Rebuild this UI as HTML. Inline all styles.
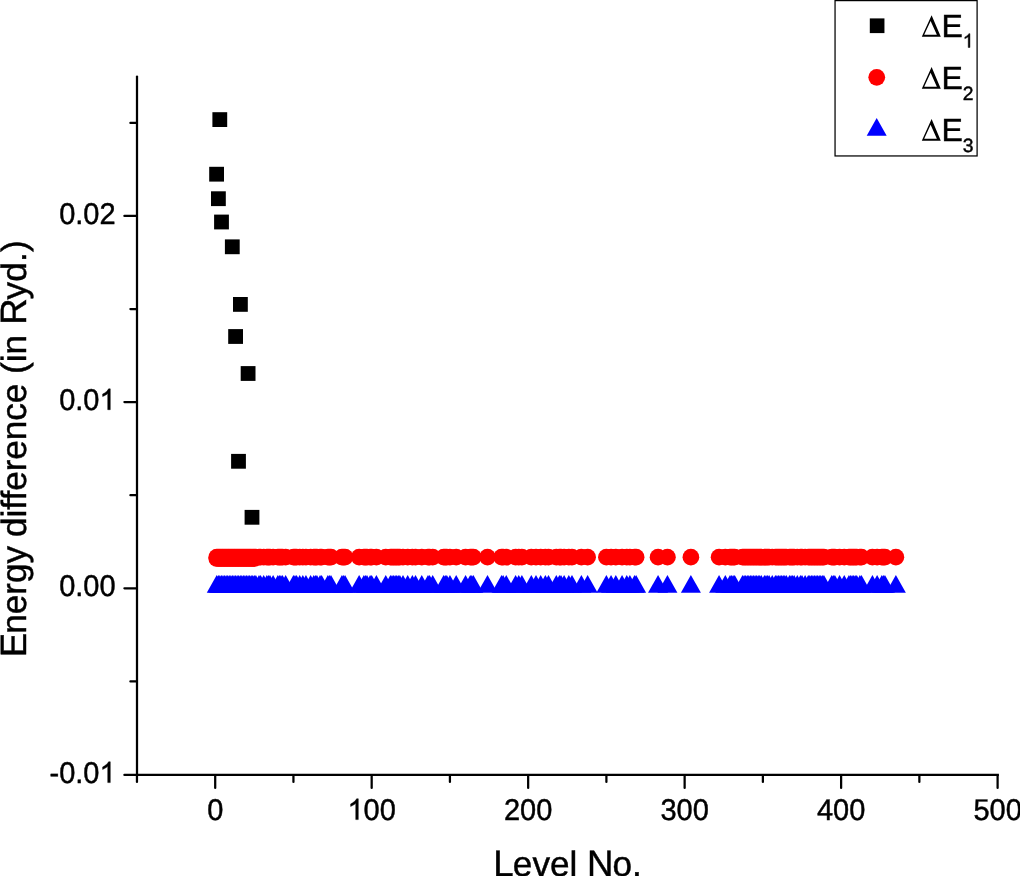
<!DOCTYPE html>
<html><head><meta charset="utf-8"><style>
html,body{margin:0;padding:0;background:#fff;width:1020px;height:876px;overflow:hidden}
svg{display:block;will-change:transform}
text{font-family:"Liberation Sans",sans-serif;fill:#000;stroke:#000;stroke-width:0.45px;text-rendering:geometricPrecision}
.tl{font-size:29px}
.h{fill:none;stroke:none}
.one{fill:#000;stroke:#000}
.al{font-size:35.16px}
.lg{font-size:32px}
.cap{font-size:36.58px}
.sub{font-size:19.3px}
</style></head><body>
<svg width="1020" height="876" viewBox="0 0 1020 876">
<line x1="137.0" y1="76.6" x2="137.0" y2="774.95" stroke="#000" stroke-width="2.25" stroke-linecap="round"/><line x1="137.0" y1="774.95" x2="998.9" y2="774.95" stroke="#000" stroke-width="2.25"/><line x1="124.4" y1="215.9" x2="136.5" y2="215.9" stroke="#000" stroke-width="2.25" stroke-linecap="round"/><line x1="124.4" y1="402.0" x2="136.5" y2="402.0" stroke="#000" stroke-width="2.25" stroke-linecap="round"/><line x1="124.4" y1="588.3" x2="136.5" y2="588.3" stroke="#000" stroke-width="2.25" stroke-linecap="round"/><line x1="124.4" y1="774.9" x2="136.5" y2="774.9" stroke="#000" stroke-width="2.25" stroke-linecap="round"/><line x1="130.4" y1="122.9" x2="136.5" y2="122.9" stroke="#000" stroke-width="2.25" stroke-linecap="round"/><line x1="130.4" y1="309.0" x2="136.5" y2="309.0" stroke="#000" stroke-width="2.25" stroke-linecap="round"/><line x1="130.4" y1="495.2" x2="136.5" y2="495.2" stroke="#000" stroke-width="2.25" stroke-linecap="round"/><line x1="130.4" y1="681.4" x2="136.5" y2="681.4" stroke="#000" stroke-width="2.25" stroke-linecap="round"/><line x1="215.2" y1="775.45" x2="215.2" y2="787.9" stroke="#000" stroke-width="2.25" stroke-linecap="round"/><line x1="371.68" y1="775.45" x2="371.68" y2="787.9" stroke="#000" stroke-width="2.25" stroke-linecap="round"/><line x1="528.16" y1="775.45" x2="528.16" y2="787.9" stroke="#000" stroke-width="2.25" stroke-linecap="round"/><line x1="684.64" y1="775.45" x2="684.64" y2="787.9" stroke="#000" stroke-width="2.25" stroke-linecap="round"/><line x1="841.12" y1="775.45" x2="841.12" y2="787.9" stroke="#000" stroke-width="2.25" stroke-linecap="round"/><line x1="997.6" y1="775.45" x2="997.6" y2="787.9" stroke="#000" stroke-width="2.25" stroke-linecap="round"/><line x1="136.96" y1="775.45" x2="136.96" y2="781.9" stroke="#000" stroke-width="2.25" stroke-linecap="round"/><line x1="293.44" y1="775.45" x2="293.44" y2="781.9" stroke="#000" stroke-width="2.25" stroke-linecap="round"/><line x1="449.92" y1="775.45" x2="449.92" y2="781.9" stroke="#000" stroke-width="2.25" stroke-linecap="round"/><line x1="606.4" y1="775.45" x2="606.4" y2="781.9" stroke="#000" stroke-width="2.25" stroke-linecap="round"/><line x1="762.88" y1="775.45" x2="762.88" y2="781.9" stroke="#000" stroke-width="2.25" stroke-linecap="round"/><line x1="919.36" y1="775.45" x2="919.36" y2="781.9" stroke="#000" stroke-width="2.25" stroke-linecap="round"/>
<text transform="translate(115.6 223.6) scale(1 1.034)" text-anchor="end" class="tl">0.02</text><text transform="translate(115.6 409.7) scale(1 1.034)" text-anchor="end" class="tl">0.0<tspan class="h">1</tspan></text><path class="one" stroke-width="31.8" transform="translate(99.47 409.70) scale(0.01416 -0.01416)" d="M763 0L583 0L583 1147Q518 1085 415 1024Q312 964 222 930L222 1104Q373 1175 486 1276Q599 1377 646 1472L763 1472Z"/><text transform="translate(115.6 596) scale(1 1.034)" text-anchor="end" class="tl">0.00</text><text transform="translate(115.6 782.6) scale(1 1.034)" text-anchor="end" class="tl">-0.0<tspan class="h">1</tspan></text><path class="one" stroke-width="31.8" transform="translate(99.47 782.60) scale(0.01416 -0.01416)" d="M763 0L583 0L583 1147Q518 1085 415 1024Q312 964 222 930L222 1104Q373 1175 486 1276Q599 1377 646 1472L763 1472Z"/><text transform="translate(215.2 819.6) scale(1 1.034)" text-anchor="middle" class="tl">0</text><text transform="translate(371.68 819.6) scale(1 1.034)" text-anchor="middle" class="tl"><tspan class="h">1</tspan>00</text><path class="one" stroke-width="31.8" transform="translate(347.49 819.60) scale(0.01416 -0.01416)" d="M763 0L583 0L583 1147Q518 1085 415 1024Q312 964 222 930L222 1104Q373 1175 486 1276Q599 1377 646 1472L763 1472Z"/><text transform="translate(528.16 819.6) scale(1 1.034)" text-anchor="middle" class="tl">200</text><text transform="translate(684.64 819.6) scale(1 1.034)" text-anchor="middle" class="tl">300</text><text transform="translate(841.12 819.6) scale(1 1.034)" text-anchor="middle" class="tl">400</text><text transform="translate(997.6 819.6) scale(1 1.034)" text-anchor="middle" class="tl">500</text><text x="0" y="0" class="al" transform="translate(25.9,657.2) rotate(-90)"><tspan class="cap">E</tspan><tspan dx="-0.95">nergy </tspan><tspan dx="-0.9" letter-spacing="-0.05">difference </tspan><tspan>(in </tspan><tspan class="cap" dx="0.3">R</tspan><tspan dx="-1.03" letter-spacing="0.2">yd.)</tspan></text><text x="493.3" y="876" class="al"><tspan class="cap">L</tspan><tspan dx="-0.79">evel </tspan><tspan class="cap">N</tspan><tspan dx="-1.03">o.</tspan></text>
<g fill="#000"><rect x="212.4" y="112.2" width="14.8" height="14.8"/><rect x="209.2" y="166.8" width="14.8" height="14.8"/><rect x="211" y="191.3" width="14.8" height="14.8"/><rect x="214.1" y="214.6" width="14.8" height="14.8"/><rect x="224.9" y="239.4" width="14.8" height="14.8"/><rect x="233" y="297" width="14.8" height="14.8"/><rect x="228.2" y="329.1" width="14.8" height="14.8"/><rect x="240.7" y="366.1" width="14.8" height="14.8"/><rect x="231.1" y="453.9" width="14.8" height="14.8"/><rect x="244.6" y="509.9" width="14.8" height="14.8"/></g>
<g fill="#f00"><circle cx="216.76" cy="557.2" r="8.35"/><circle cx="216.76" cy="558.5" r="8.35"/><circle cx="218.33" cy="557.2" r="8.35"/><circle cx="218.33" cy="558.5" r="8.35"/><circle cx="219.89" cy="557.2" r="8.35"/><circle cx="219.89" cy="558.5" r="8.35"/><circle cx="221.46" cy="557.2" r="8.35"/><circle cx="221.46" cy="558.5" r="8.35"/><circle cx="223.02" cy="557.2" r="8.35"/><circle cx="223.02" cy="558.5" r="8.35"/><circle cx="224.59" cy="557.2" r="8.35"/><circle cx="224.59" cy="558.5" r="8.35"/><circle cx="226.15" cy="557.2" r="8.35"/><circle cx="226.15" cy="558.5" r="8.35"/><circle cx="227.72" cy="557.2" r="8.35"/><circle cx="227.72" cy="558.5" r="8.35"/><circle cx="229.28" cy="557.2" r="8.35"/><circle cx="229.28" cy="558.5" r="8.35"/><circle cx="230.85" cy="557.2" r="8.35"/><circle cx="230.85" cy="558.5" r="8.35"/><circle cx="232.41" cy="557.2" r="8.35"/><circle cx="232.41" cy="558.5" r="8.35"/><circle cx="233.98" cy="557.2" r="8.35"/><circle cx="233.98" cy="558.5" r="8.35"/><circle cx="235.54" cy="557.2" r="8.35"/><circle cx="235.54" cy="558.5" r="8.35"/><circle cx="237.11" cy="557.2" r="8.35"/><circle cx="237.11" cy="558.5" r="8.35"/><circle cx="238.67" cy="557.2" r="8.35"/><circle cx="238.67" cy="558.5" r="8.35"/><circle cx="240.24" cy="557.2" r="8.35"/><circle cx="240.24" cy="558.5" r="8.35"/><circle cx="241.8" cy="557.2" r="8.35"/><circle cx="241.8" cy="558.5" r="8.35"/><circle cx="243.37" cy="557.2" r="8.35"/><circle cx="243.37" cy="558.5" r="8.35"/><circle cx="244.93" cy="557.2" r="8.35"/><circle cx="244.93" cy="558.5" r="8.35"/><circle cx="246.5" cy="557.2" r="8.35"/><circle cx="246.5" cy="558.5" r="8.35"/><circle cx="248.06" cy="557.2" r="8.35"/><circle cx="248.06" cy="558.5" r="8.35"/><circle cx="249.63" cy="557.2" r="8.35"/><circle cx="249.63" cy="558.5" r="8.35"/><circle cx="251.19" cy="557.2" r="8.35"/><circle cx="251.19" cy="558.5" r="8.35"/><circle cx="252.76" cy="557.2" r="8.35"/><circle cx="252.76" cy="558.5" r="8.35"/><circle cx="254.32" cy="557.2" r="8.35"/><circle cx="254.32" cy="558.5" r="8.35"/><circle cx="255.88" cy="557.2" r="8.35"/><circle cx="259.01" cy="557.2" r="8.35"/><circle cx="260.58" cy="557.2" r="8.35"/><circle cx="263.71" cy="557.2" r="8.35"/><circle cx="266.84" cy="557.2" r="8.35"/><circle cx="268.4" cy="557.2" r="8.35"/><circle cx="269.97" cy="557.2" r="8.35"/><circle cx="273.1" cy="557.2" r="8.35"/><circle cx="277.79" cy="557.2" r="8.35"/><circle cx="279.36" cy="557.2" r="8.35"/><circle cx="280.92" cy="557.2" r="8.35"/><circle cx="282.49" cy="557.2" r="8.35"/><circle cx="285.62" cy="557.2" r="8.35"/><circle cx="293.44" cy="557.2" r="8.35"/><circle cx="295" cy="557.2" r="8.35"/><circle cx="296.57" cy="557.2" r="8.35"/><circle cx="299.7" cy="557.2" r="8.35"/><circle cx="302.83" cy="557.2" r="8.35"/><circle cx="305.96" cy="557.2" r="8.35"/><circle cx="310.65" cy="557.2" r="8.35"/><circle cx="313.78" cy="557.2" r="8.35"/><circle cx="315.35" cy="557.2" r="8.35"/><circle cx="316.91" cy="557.2" r="8.35"/><circle cx="320.04" cy="557.2" r="8.35"/><circle cx="321.61" cy="557.2" r="8.35"/><circle cx="327.87" cy="557.2" r="8.35"/><circle cx="329.43" cy="557.2" r="8.35"/><circle cx="331" cy="557.2" r="8.35"/><circle cx="341.95" cy="557.2" r="8.35"/><circle cx="343.51" cy="557.2" r="8.35"/><circle cx="345.08" cy="557.2" r="8.35"/><circle cx="359.16" cy="557.2" r="8.35"/><circle cx="363.86" cy="557.2" r="8.35"/><circle cx="365.42" cy="557.2" r="8.35"/><circle cx="366.99" cy="557.2" r="8.35"/><circle cx="370.12" cy="557.2" r="8.35"/><circle cx="371.68" cy="557.2" r="8.35"/><circle cx="376.37" cy="557.2" r="8.35"/><circle cx="385.76" cy="557.2" r="8.35"/><circle cx="390.46" cy="557.2" r="8.35"/><circle cx="392.02" cy="557.2" r="8.35"/><circle cx="393.59" cy="557.2" r="8.35"/><circle cx="395.15" cy="557.2" r="8.35"/><circle cx="396.72" cy="557.2" r="8.35"/><circle cx="398.28" cy="557.2" r="8.35"/><circle cx="399.85" cy="557.2" r="8.35"/><circle cx="402.98" cy="557.2" r="8.35"/><circle cx="407.67" cy="557.2" r="8.35"/><circle cx="412.36" cy="557.2" r="8.35"/><circle cx="415.49" cy="557.2" r="8.35"/><circle cx="421.75" cy="557.2" r="8.35"/><circle cx="428.01" cy="557.2" r="8.35"/><circle cx="429.58" cy="557.2" r="8.35"/><circle cx="432.71" cy="557.2" r="8.35"/><circle cx="443.66" cy="557.2" r="8.35"/><circle cx="445.23" cy="557.2" r="8.35"/><circle cx="446.79" cy="557.2" r="8.35"/><circle cx="449.92" cy="557.2" r="8.35"/><circle cx="456.18" cy="557.2" r="8.35"/><circle cx="465.57" cy="557.2" r="8.35"/><circle cx="470.26" cy="557.2" r="8.35"/><circle cx="471.83" cy="557.2" r="8.35"/><circle cx="473.39" cy="557.2" r="8.35"/><circle cx="487.48" cy="557.2" r="8.35"/><circle cx="501.56" cy="557.2" r="8.35"/><circle cx="503.12" cy="557.2" r="8.35"/><circle cx="506.25" cy="557.2" r="8.35"/><circle cx="515.64" cy="557.2" r="8.35"/><circle cx="518.77" cy="557.2" r="8.35"/><circle cx="521.9" cy="557.2" r="8.35"/><circle cx="531.29" cy="557.2" r="8.35"/><circle cx="535.98" cy="557.2" r="8.35"/><circle cx="540.68" cy="557.2" r="8.35"/><circle cx="545.37" cy="557.2" r="8.35"/><circle cx="548.5" cy="557.2" r="8.35"/><circle cx="556.33" cy="557.2" r="8.35"/><circle cx="559.46" cy="557.2" r="8.35"/><circle cx="561.02" cy="557.2" r="8.35"/><circle cx="564.15" cy="557.2" r="8.35"/><circle cx="568.84" cy="557.2" r="8.35"/><circle cx="571.97" cy="557.2" r="8.35"/><circle cx="581.36" cy="557.2" r="8.35"/><circle cx="587.62" cy="557.2" r="8.35"/><circle cx="606.4" cy="557.2" r="8.35"/><circle cx="611.09" cy="557.2" r="8.35"/><circle cx="615.79" cy="557.2" r="8.35"/><circle cx="622.05" cy="557.2" r="8.35"/><circle cx="626.74" cy="557.2" r="8.35"/><circle cx="629.87" cy="557.2" r="8.35"/><circle cx="634.57" cy="557.2" r="8.35"/><circle cx="636.13" cy="557.2" r="8.35"/><circle cx="658.04" cy="557.2" r="8.35"/><circle cx="667.43" cy="557.2" r="8.35"/><circle cx="690.9" cy="557.2" r="8.35"/><circle cx="719.07" cy="557.2" r="8.35"/><circle cx="725.32" cy="557.2" r="8.35"/><circle cx="730.02" cy="557.2" r="8.35"/><circle cx="731.58" cy="557.2" r="8.35"/><circle cx="733.15" cy="557.2" r="8.35"/><circle cx="734.71" cy="557.2" r="8.35"/><circle cx="742.54" cy="557.2" r="8.35"/><circle cx="744.1" cy="557.2" r="8.35"/><circle cx="745.67" cy="557.2" r="8.35"/><circle cx="747.23" cy="557.2" r="8.35"/><circle cx="748.8" cy="557.2" r="8.35"/><circle cx="750.36" cy="557.2" r="8.35"/><circle cx="751.93" cy="557.2" r="8.35"/><circle cx="753.49" cy="557.2" r="8.35"/><circle cx="755.06" cy="557.2" r="8.35"/><circle cx="756.62" cy="557.2" r="8.35"/><circle cx="758.19" cy="557.2" r="8.35"/><circle cx="759.75" cy="557.2" r="8.35"/><circle cx="761.32" cy="557.2" r="8.35"/><circle cx="764.44" cy="557.2" r="8.35"/><circle cx="766.01" cy="557.2" r="8.35"/><circle cx="767.57" cy="557.2" r="8.35"/><circle cx="769.14" cy="557.2" r="8.35"/><circle cx="772.27" cy="557.2" r="8.35"/><circle cx="775.4" cy="557.2" r="8.35"/><circle cx="776.96" cy="557.2" r="8.35"/><circle cx="778.53" cy="557.2" r="8.35"/><circle cx="780.09" cy="557.2" r="8.35"/><circle cx="781.66" cy="557.2" r="8.35"/><circle cx="783.22" cy="557.2" r="8.35"/><circle cx="784.79" cy="557.2" r="8.35"/><circle cx="786.35" cy="557.2" r="8.35"/><circle cx="789.48" cy="557.2" r="8.35"/><circle cx="791.05" cy="557.2" r="8.35"/><circle cx="792.61" cy="557.2" r="8.35"/><circle cx="794.18" cy="557.2" r="8.35"/><circle cx="797.31" cy="557.2" r="8.35"/><circle cx="800.44" cy="557.2" r="8.35"/><circle cx="802" cy="557.2" r="8.35"/><circle cx="805.13" cy="557.2" r="8.35"/><circle cx="808.26" cy="557.2" r="8.35"/><circle cx="809.82" cy="557.2" r="8.35"/><circle cx="811.39" cy="557.2" r="8.35"/><circle cx="812.95" cy="557.2" r="8.35"/><circle cx="814.52" cy="557.2" r="8.35"/><circle cx="816.08" cy="557.2" r="8.35"/><circle cx="817.65" cy="557.2" r="8.35"/><circle cx="819.21" cy="557.2" r="8.35"/><circle cx="820.78" cy="557.2" r="8.35"/><circle cx="822.34" cy="557.2" r="8.35"/><circle cx="823.91" cy="557.2" r="8.35"/><circle cx="831.73" cy="557.2" r="8.35"/><circle cx="833.3" cy="557.2" r="8.35"/><circle cx="834.86" cy="557.2" r="8.35"/><circle cx="839.56" cy="557.2" r="8.35"/><circle cx="844.25" cy="557.2" r="8.35"/><circle cx="848.94" cy="557.2" r="8.35"/><circle cx="850.51" cy="557.2" r="8.35"/><circle cx="852.07" cy="557.2" r="8.35"/><circle cx="853.64" cy="557.2" r="8.35"/><circle cx="855.2" cy="557.2" r="8.35"/><circle cx="856.77" cy="557.2" r="8.35"/><circle cx="859.9" cy="557.2" r="8.35"/><circle cx="861.46" cy="557.2" r="8.35"/><circle cx="872.42" cy="557.2" r="8.35"/><circle cx="877.11" cy="557.2" r="8.35"/><circle cx="881.8" cy="557.2" r="8.35"/><circle cx="883.37" cy="557.2" r="8.35"/><circle cx="884.93" cy="557.2" r="8.35"/><circle cx="895.89" cy="557.2" r="8.35"/></g>
<g fill="#00f"><path d="M206.76 592.7L216.76 575L226.76 592.7Z"/><path d="M208.33 592.7L218.33 575L228.33 592.7Z"/><path d="M209.89 592.7L219.89 575L229.89 592.7Z"/><path d="M211.46 592.7L221.46 575L231.46 592.7Z"/><path d="M213.02 592.7L223.02 575L233.02 592.7Z"/><path d="M214.59 592.7L224.59 575L234.59 592.7Z"/><path d="M216.15 592.7L226.15 575L236.15 592.7Z"/><path d="M217.72 592.7L227.72 575L237.72 592.7Z"/><path d="M219.28 592.7L229.28 575L239.28 592.7Z"/><path d="M220.85 592.7L230.85 575L240.85 592.7Z"/><path d="M222.41 592.7L232.41 575L242.41 592.7Z"/><path d="M223.98 592.7L233.98 575L243.98 592.7Z"/><path d="M225.54 592.7L235.54 575L245.54 592.7Z"/><path d="M227.11 592.7L237.11 575L247.11 592.7Z"/><path d="M228.67 592.7L238.67 575L248.67 592.7Z"/><path d="M230.24 592.7L240.24 575L250.24 592.7Z"/><path d="M231.8 592.7L241.8 575L251.8 592.7Z"/><path d="M233.37 592.7L243.37 575L253.37 592.7Z"/><path d="M234.93 592.7L244.93 575L254.93 592.7Z"/><path d="M236.5 592.7L246.5 575L256.5 592.7Z"/><path d="M238.06 592.7L248.06 575L258.06 592.7Z"/><path d="M239.63 592.7L249.63 575L259.63 592.7Z"/><path d="M241.19 592.7L251.19 575L261.19 592.7Z"/><path d="M242.76 592.7L252.76 575L262.76 592.7Z"/><path d="M244.32 592.7L254.32 575L264.32 592.7Z"/><path d="M245.88 592.7L255.88 575L265.88 592.7Z"/><path d="M249.01 592.7L259.01 575L269.01 592.7Z"/><path d="M250.58 592.7L260.58 575L270.58 592.7Z"/><path d="M253.71 592.7L263.71 575L273.71 592.7Z"/><path d="M256.84 592.7L266.84 575L276.84 592.7Z"/><path d="M258.4 592.7L268.4 575L278.4 592.7Z"/><path d="M259.97 592.7L269.97 575L279.97 592.7Z"/><path d="M263.1 592.7L273.1 575L283.1 592.7Z"/><path d="M267.79 592.7L277.79 575L287.79 592.7Z"/><path d="M269.36 592.7L279.36 575L289.36 592.7Z"/><path d="M270.92 592.7L280.92 575L290.92 592.7Z"/><path d="M272.49 592.7L282.49 575L292.49 592.7Z"/><path d="M275.62 592.7L285.62 575L295.62 592.7Z"/><path d="M283.44 592.7L293.44 575L303.44 592.7Z"/><path d="M285 592.7L295 575L305 592.7Z"/><path d="M286.57 592.7L296.57 575L306.57 592.7Z"/><path d="M289.7 592.7L299.7 575L309.7 592.7Z"/><path d="M292.83 592.7L302.83 575L312.83 592.7Z"/><path d="M295.96 592.7L305.96 575L315.96 592.7Z"/><path d="M300.65 592.7L310.65 575L320.65 592.7Z"/><path d="M303.78 592.7L313.78 575L323.78 592.7Z"/><path d="M305.35 592.7L315.35 575L325.35 592.7Z"/><path d="M306.91 592.7L316.91 575L326.91 592.7Z"/><path d="M310.04 592.7L320.04 575L330.04 592.7Z"/><path d="M311.61 592.7L321.61 575L331.61 592.7Z"/><path d="M317.87 592.7L327.87 575L337.87 592.7Z"/><path d="M319.43 592.7L329.43 575L339.43 592.7Z"/><path d="M321 592.7L331 575L341 592.7Z"/><path d="M331.95 592.7L341.95 575L351.95 592.7Z"/><path d="M333.51 592.7L343.51 575L353.51 592.7Z"/><path d="M335.08 592.7L345.08 575L355.08 592.7Z"/><path d="M349.16 592.7L359.16 575L369.16 592.7Z"/><path d="M353.86 592.7L363.86 575L373.86 592.7Z"/><path d="M355.42 592.7L365.42 575L375.42 592.7Z"/><path d="M356.99 592.7L366.99 575L376.99 592.7Z"/><path d="M360.12 592.7L370.12 575L380.12 592.7Z"/><path d="M361.68 592.7L371.68 575L381.68 592.7Z"/><path d="M366.37 592.7L376.37 575L386.37 592.7Z"/><path d="M375.76 592.7L385.76 575L395.76 592.7Z"/><path d="M380.46 592.7L390.46 575L400.46 592.7Z"/><path d="M382.02 592.7L392.02 575L402.02 592.7Z"/><path d="M383.59 592.7L393.59 575L403.59 592.7Z"/><path d="M385.15 592.7L395.15 575L405.15 592.7Z"/><path d="M386.72 592.7L396.72 575L406.72 592.7Z"/><path d="M388.28 592.7L398.28 575L408.28 592.7Z"/><path d="M389.85 592.7L399.85 575L409.85 592.7Z"/><path d="M392.98 592.7L402.98 575L412.98 592.7Z"/><path d="M397.67 592.7L407.67 575L417.67 592.7Z"/><path d="M402.36 592.7L412.36 575L422.36 592.7Z"/><path d="M405.49 592.7L415.49 575L425.49 592.7Z"/><path d="M411.75 592.7L421.75 575L431.75 592.7Z"/><path d="M418.01 592.7L428.01 575L438.01 592.7Z"/><path d="M419.58 592.7L429.58 575L439.58 592.7Z"/><path d="M422.71 592.7L432.71 575L442.71 592.7Z"/><path d="M433.66 592.7L443.66 575L453.66 592.7Z"/><path d="M435.23 592.7L445.23 575L455.23 592.7Z"/><path d="M436.79 592.7L446.79 575L456.79 592.7Z"/><path d="M439.92 592.7L449.92 575L459.92 592.7Z"/><path d="M446.18 592.7L456.18 575L466.18 592.7Z"/><path d="M455.57 592.7L465.57 575L475.57 592.7Z"/><path d="M460.26 592.7L470.26 575L480.26 592.7Z"/><path d="M461.83 592.7L471.83 575L481.83 592.7Z"/><path d="M463.39 592.7L473.39 575L483.39 592.7Z"/><path d="M477.48 592.7L487.48 575L497.48 592.7Z"/><path d="M491.56 592.7L501.56 575L511.56 592.7Z"/><path d="M493.12 592.7L503.12 575L513.12 592.7Z"/><path d="M496.25 592.7L506.25 575L516.25 592.7Z"/><path d="M505.64 592.7L515.64 575L525.64 592.7Z"/><path d="M508.77 592.7L518.77 575L528.77 592.7Z"/><path d="M511.9 592.7L521.9 575L531.9 592.7Z"/><path d="M521.29 592.7L531.29 575L541.29 592.7Z"/><path d="M525.98 592.7L535.98 575L545.98 592.7Z"/><path d="M530.68 592.7L540.68 575L550.68 592.7Z"/><path d="M535.37 592.7L545.37 575L555.37 592.7Z"/><path d="M538.5 592.7L548.5 575L558.5 592.7Z"/><path d="M546.33 592.7L556.33 575L566.33 592.7Z"/><path d="M549.46 592.7L559.46 575L569.46 592.7Z"/><path d="M551.02 592.7L561.02 575L571.02 592.7Z"/><path d="M554.15 592.7L564.15 575L574.15 592.7Z"/><path d="M558.84 592.7L568.84 575L578.84 592.7Z"/><path d="M561.97 592.7L571.97 575L581.97 592.7Z"/><path d="M571.36 592.7L581.36 575L591.36 592.7Z"/><path d="M577.62 592.7L587.62 575L597.62 592.7Z"/><path d="M596.4 592.7L606.4 575L616.4 592.7Z"/><path d="M601.09 592.7L611.09 575L621.09 592.7Z"/><path d="M605.79 592.7L615.79 575L625.79 592.7Z"/><path d="M612.05 592.7L622.05 575L632.05 592.7Z"/><path d="M616.74 592.7L626.74 575L636.74 592.7Z"/><path d="M619.87 592.7L629.87 575L639.87 592.7Z"/><path d="M624.57 592.7L634.57 575L644.57 592.7Z"/><path d="M626.13 592.7L636.13 575L646.13 592.7Z"/><path d="M648.04 592.7L658.04 575L668.04 592.7Z"/><path d="M657.43 592.7L667.43 575L677.43 592.7Z"/><path d="M680.9 592.7L690.9 575L700.9 592.7Z"/><path d="M709.07 592.7L719.07 575L729.07 592.7Z"/><path d="M715.32 592.7L725.32 575L735.32 592.7Z"/><path d="M720.02 592.7L730.02 575L740.02 592.7Z"/><path d="M721.58 592.7L731.58 575L741.58 592.7Z"/><path d="M723.15 592.7L733.15 575L743.15 592.7Z"/><path d="M724.71 592.7L734.71 575L744.71 592.7Z"/><path d="M732.54 592.7L742.54 575L752.54 592.7Z"/><path d="M734.1 592.7L744.1 575L754.1 592.7Z"/><path d="M735.67 592.7L745.67 575L755.67 592.7Z"/><path d="M737.23 592.7L747.23 575L757.23 592.7Z"/><path d="M738.8 592.7L748.8 575L758.8 592.7Z"/><path d="M740.36 592.7L750.36 575L760.36 592.7Z"/><path d="M741.93 592.7L751.93 575L761.93 592.7Z"/><path d="M743.49 592.7L753.49 575L763.49 592.7Z"/><path d="M745.06 592.7L755.06 575L765.06 592.7Z"/><path d="M746.62 592.7L756.62 575L766.62 592.7Z"/><path d="M748.19 592.7L758.19 575L768.19 592.7Z"/><path d="M749.75 592.7L759.75 575L769.75 592.7Z"/><path d="M751.32 592.7L761.32 575L771.32 592.7Z"/><path d="M754.44 592.7L764.44 575L774.44 592.7Z"/><path d="M756.01 592.7L766.01 575L776.01 592.7Z"/><path d="M757.57 592.7L767.57 575L777.57 592.7Z"/><path d="M759.14 592.7L769.14 575L779.14 592.7Z"/><path d="M762.27 592.7L772.27 575L782.27 592.7Z"/><path d="M765.4 592.7L775.4 575L785.4 592.7Z"/><path d="M766.96 592.7L776.96 575L786.96 592.7Z"/><path d="M768.53 592.7L778.53 575L788.53 592.7Z"/><path d="M770.09 592.7L780.09 575L790.09 592.7Z"/><path d="M771.66 592.7L781.66 575L791.66 592.7Z"/><path d="M773.22 592.7L783.22 575L793.22 592.7Z"/><path d="M774.79 592.7L784.79 575L794.79 592.7Z"/><path d="M776.35 592.7L786.35 575L796.35 592.7Z"/><path d="M779.48 592.7L789.48 575L799.48 592.7Z"/><path d="M781.05 592.7L791.05 575L801.05 592.7Z"/><path d="M782.61 592.7L792.61 575L802.61 592.7Z"/><path d="M784.18 592.7L794.18 575L804.18 592.7Z"/><path d="M787.31 592.7L797.31 575L807.31 592.7Z"/><path d="M790.44 592.7L800.44 575L810.44 592.7Z"/><path d="M792 592.7L802 575L812 592.7Z"/><path d="M795.13 592.7L805.13 575L815.13 592.7Z"/><path d="M798.26 592.7L808.26 575L818.26 592.7Z"/><path d="M799.82 592.7L809.82 575L819.82 592.7Z"/><path d="M801.39 592.7L811.39 575L821.39 592.7Z"/><path d="M802.95 592.7L812.95 575L822.95 592.7Z"/><path d="M804.52 592.7L814.52 575L824.52 592.7Z"/><path d="M806.08 592.7L816.08 575L826.08 592.7Z"/><path d="M807.65 592.7L817.65 575L827.65 592.7Z"/><path d="M809.21 592.7L819.21 575L829.21 592.7Z"/><path d="M810.78 592.7L820.78 575L830.78 592.7Z"/><path d="M812.34 592.7L822.34 575L832.34 592.7Z"/><path d="M813.91 592.7L823.91 575L833.91 592.7Z"/><path d="M821.73 592.7L831.73 575L841.73 592.7Z"/><path d="M823.3 592.7L833.3 575L843.3 592.7Z"/><path d="M824.86 592.7L834.86 575L844.86 592.7Z"/><path d="M829.56 592.7L839.56 575L849.56 592.7Z"/><path d="M834.25 592.7L844.25 575L854.25 592.7Z"/><path d="M838.94 592.7L848.94 575L858.94 592.7Z"/><path d="M840.51 592.7L850.51 575L860.51 592.7Z"/><path d="M842.07 592.7L852.07 575L862.07 592.7Z"/><path d="M843.64 592.7L853.64 575L863.64 592.7Z"/><path d="M845.2 592.7L855.2 575L865.2 592.7Z"/><path d="M846.77 592.7L856.77 575L866.77 592.7Z"/><path d="M849.9 592.7L859.9 575L869.9 592.7Z"/><path d="M851.46 592.7L861.46 575L871.46 592.7Z"/><path d="M862.42 592.7L872.42 575L882.42 592.7Z"/><path d="M867.11 592.7L877.11 575L887.11 592.7Z"/><path d="M871.8 592.7L881.8 575L891.8 592.7Z"/><path d="M873.37 592.7L883.37 575L893.37 592.7Z"/><path d="M874.93 592.7L884.93 575L894.93 592.7Z"/><path d="M885.89 592.7L895.89 575L905.89 592.7Z"/></g>
<rect x="835.05" y="0.6" width="142.05" height="155.35" fill="none" stroke="#000" stroke-width="1.25"/>
<rect x="869.8" y="18.4" width="14.65" height="14.7" fill="#000"/>
<circle cx="876.75" cy="77.35" r="8.4" fill="#f00"/>
<path d="M866.7 135.8L876.7 118L886.7 135.8Z" fill="#00f"/>
<path fill-rule="evenodd" d="M921.80 36.80L931.60 15.20L940.80 36.80ZM924.20 34.80L936.85 34.80L930.60 20.90Z"/>
<text x="941.4" y="36.6" class="lg">E<tspan class="sub h" dy="11.1">1</tspan></text>
<path class="one" stroke-width="47.8" transform="translate(962.74 47.50) scale(0.00942 -0.00942)" d="M763 0L583 0L583 1147Q518 1085 415 1024Q312 964 222 930L222 1104Q373 1175 486 1276Q599 1377 646 1472L763 1472Z"/>
<path fill-rule="evenodd" d="M921.80 88.70L931.60 67.10L940.80 88.70ZM924.20 86.70L936.85 86.70L930.60 72.80Z"/>
<text x="941.4" y="88.5" class="lg">E<tspan class="sub" dy="11.1">2</tspan></text>
<path fill-rule="evenodd" d="M921.80 140.70L931.60 119.10L940.80 140.70ZM924.20 138.70L936.85 138.70L930.60 124.80Z"/>
<text x="941.4" y="140.5" class="lg">E<tspan class="sub" dy="11.1">3</tspan></text>

</svg>
</body></html>
